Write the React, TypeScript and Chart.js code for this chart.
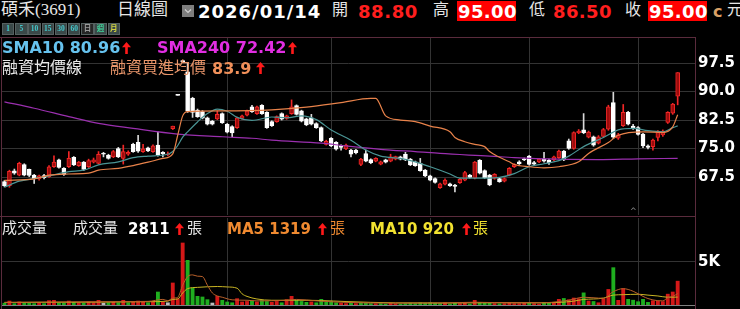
import React, { useEffect, useRef } from "react";
import { Chart, registerables } from "chart.js";

Chart.register(...registerables);

const SLOTS = 140;

const opens = [
  66.3,65.2,69.1,68.0,70.8,69.5,68.0,67.0,67.9,67.6,
  70.2,72.0,69.8,70.2,72.7,70.5,71.4,70.2,71.4,71.1,
  73.6,73.3,72.8,75.0,72.4,73.5,76.1,76.6,74.2,75.2,
  74.2,75.9,74.0,73.3,80.2,89.0,97.9,95.2,88.2,85.1,
  84.7,83.1,82.2,82.8,84.2,81.4,80.8,80.5,82.9,83.8,
  86.0,84.2,86.4,84.5,82.1,82.1,84.2,82.9,84.2,86.3,
  84.9,82.8,83.1,81.6,80.5,76.1,77.7,76.6,75.8,74.9,
  74.6,74.6,70.8,73.7,72.1,71.7,70.9,72.0,71.7,72.2,
  72.8,73.5,72.2,71.5,71.1,69.3,67.8,67.1,64.7,65.6,
  65.7,65.4,66.0,66.7,68.0,67.2,71.9,69.2,68.0,67.1,
  67.1,66.4,68.0,70.2,71.5,72.3,73.0,71.3,71.5,72.2,
  71.9,72.0,72.6,74.3,77.0,75.0,79.1,79.9,78.0,78.1,
  76.4,78.2,80.1,87.1,77.7,81.0,84.5,80.9,80.5,78.8,
  75.7,75.5,77.9,78.6,81.9,84.3,88.8,
];
const highs = [
  66.6,69.3,69.6,71.4,71.0,69.6,68.2,68.0,68.2,70.5,
  73.1,72.2,70.0,74.2,72.9,71.6,71.6,72.2,72.5,74.2,
  74.0,73.5,74.5,75.3,75.9,74.4,76.4,78.5,76.1,75.4,
  76.0,79.4,74.2,74.1,80.9,89.0,97.9,97.7,88.5,85.4,
  85.0,83.3,82.4,84.9,84.4,81.6,81.0,83.3,83.8,85.1,
  86.4,86.2,86.6,84.7,82.3,83.6,84.4,83.8,87.8,86.5,
  85.1,83.0,84.0,81.8,80.7,77.2,77.9,76.8,76.0,76.2,
  74.8,74.8,72.4,74.6,72.3,72.6,71.7,72.2,73.5,73.0,
  73.0,74.0,72.4,71.7,72.4,69.5,68.0,67.3,65.9,67.0,
  65.9,65.6,67.1,69.0,68.2,71.6,72.1,69.4,68.2,68.4,
  67.3,67.3,70.0,71.0,71.8,72.5,73.2,71.6,72.4,74.0,
  72.2,73.0,74.6,74.5,77.5,79.4,80.0,84.2,79.6,78.3,
  78.4,80.3,86.4,89.8,79.0,86.6,84.8,81.4,80.8,79.0,
  76.0,77.5,79.7,79.9,84.7,86.9,95.0,
];
const lows = [
  64.9,64.8,68.2,67.8,67.8,67.6,65.8,66.7,67.0,67.4,
  70.0,69.8,67.9,70.0,70.5,70.3,69.2,70.0,71.2,70.9,
  72.8,72.2,72.6,72.6,70.9,73.2,74.0,74.0,74.0,74.2,
  74.0,73.0,72.8,73.1,80.0,89.0,97.9,84.5,83.2,83.2,
  82.8,81.2,81.2,82.6,81.6,79.1,78.1,80.3,82.7,83.6,
  84.5,84.0,84.0,80.3,80.8,81.9,82.5,82.7,84.0,83.8,
  82.0,81.0,81.2,80.3,76.8,75.9,75.5,74.6,74.6,74.7,
  72.8,73.6,70.5,71.5,71.0,71.5,70.7,71.2,71.5,72.0,
  72.0,71.8,70.5,70.3,69.0,67.6,66.5,65.9,64.5,65.4,
  65.0,63.6,65.8,66.5,67.2,67.0,68.3,67.1,65.2,66.9,
  66.1,66.2,67.8,70.0,70.8,71.8,70.6,70.5,71.3,71.4,
  70.8,71.8,72.4,71.8,74.8,74.8,78.9,78.9,77.8,75.6,
  76.2,78.0,79.8,77.6,77.4,80.8,81.2,80.0,78.5,75.2,
  74.9,74.6,77.0,78.2,81.6,84.0,86.5,
];
const closes = [
  65.2,69.0,68.5,71.1,68.0,67.9,67.0,67.8,67.3,70.2,
  71.4,70.0,68.2,72.4,70.7,71.4,69.5,71.8,72.0,73.5,
  73.5,72.4,74.2,72.8,74.2,74.0,74.2,74.3,74.9,74.4,
  75.7,73.3,73.6,73.6,80.9,89.0,97.9,85.0,84.5,83.4,
  83.0,81.4,81.4,84.0,81.8,79.3,79.1,83.1,83.6,84.9,
  84.7,86.0,84.2,80.5,81.0,83.4,82.7,83.6,86.0,84.0,
  82.2,81.2,81.4,80.5,77.0,76.9,75.7,74.8,75.3,75.9,
  73.5,73.9,72.2,71.7,71.3,72.4,71.5,71.4,72.8,72.9,
  72.2,72.0,70.7,70.5,69.2,67.8,66.7,66.1,65.7,66.7,
  65.2,65.0,66.9,68.7,67.4,71.4,68.5,67.3,65.4,68.2,
  66.3,67.1,69.8,70.8,71.0,72.0,70.8,70.9,72.2,71.7,
  71.2,72.8,74.3,72.0,75.0,79.2,79.6,79.2,79.3,75.9,
  78.1,80.0,86.0,78.0,78.6,84.5,81.4,80.3,78.7,75.7,
  75.3,77.2,79.4,79.6,84.5,86.7,95.0,
];
const volumes = [
  250,500,200,400,300,250,200,300,200,550,
  580,300,250,500,350,300,250,400,300,580,
  250,300,350,300,580,300,350,500,400,300,
  450,1550,400,300,2600,775,7250,5230,2015,1050,
  970,660,270,1050,580,390,300,775,390,450,
  500,400,580,450,350,450,300,660,1050,580,
  450,350,400,300,700,350,450,300,250,200,
  250,200,300,250,200,180,200,150,250,180,
  150,200,250,200,300,250,300,250,200,300,
  150,250,200,300,150,580,350,250,300,200,
  180,200,300,200,200,250,300,200,150,350,
  250,350,700,800,650,850,775,1450,500,450,
  300,750,1850,4380,580,1940,700,600,420,700,
  350,535,500,434,1300,1550,2811,
];

// [day number, value]
const sma10Points: [number, number][] = [
  [1,64.8],[4,66.4],[7,67.1],[10,67.8],[14,68.9],[17,69.3],[20,70.7],[24,71.5],[27,72.6],[30,73.0],
  [34,73.5],[35,74.2],[36,75.8],[37,78.0],[38,79.4],[40,82.0],[42,84.2],[44,85.4],[46,84.8],[48,83.2],
  [51,82.4],[55,83.3],[58,83.1],[61,83.6],[64,82.6],[67,79.9],[71,77.2],[74,74.6],[77,73.0],[81,72.4],
  [84,71.5],[87,70.2],[91,68.3],[93,67.2],[98,67.2],[101,67.4],[104,68.4],[107,70.2],[110,71.0],[113,71.8],
  [115,73.0],[118,75.5],[122,77.9],[125,79.9],[128,80.3],[131,79.7],[134,79.4],[136,80.5],[137,80.96],
];
const sma240Points: [number, number][] = [
  [1,87.3],[7,85.6],[14,83.4],[20,81.6],[27,80.3],[36,78.8],[45,78.1],[51,77.7],[55,77.2],[65,76.4],
  [70,75.7],[79,74.6],[84,74.2],[89,73.7],[99,73.0],[104,72.6],[113,72.2],[121,72.1],[129,72.3],[137,72.42],
];
const marginCostPoints: [number, number][] = [
  [1,66.6],[7,67.0],[10,68.0],[14,68.3],[18,68.5],[20,69.3],[24,69.8],[27,70.5],[30,71.4],[33,72.4],
  [35,73.6],[36,78.5],[37,83.6],[38,84.7],[45,84.9],[55,85.2],[62,85.9],[69,87.1],[75,88.2],[76,88.2],
  [78,83.6],[81,82.5],[84,82.1],[87,80.9],[91,79.4],[92,77.9],[94,76.8],[96,76.1],[98,75.5],[99,74.2],
  [101,72.7],[103,71.5],[104,70.8],[107,70.2],[110,69.9],[113,70.2],[117,71.5],[119,73.7],[123,76.6],[125,78.5],
  [130,79.4],[134,79.2],[136,80.7],[137,83.9],
];
const volMa5Points: [number, number][] = [
  [1,300],[10,350],[20,380],[30,420],[33,650],[34,500],[35,800],[36,900],[37,2300],[38,3300],
  [39,3500],[40,3350],[41,3300],[42,2300],[43,1400],[44,1050],[45,900],[47,600],[50,550],[52,480],
  [58,550],[60,650],[64,480],[70,300],[80,220],[90,240],[96,320],[100,280],[110,260],[113,400],
  [115,550],[118,900],[121,800],[122,780],[124,1550],[126,1900],[128,1600],[130,1000],[131,750],[133,500],
  [134,480],[135,850],[136,1000],[137,1319],
];
const volMa10Points: [number, number][] = [
  [1,300],[20,330],[30,380],[34,450],[35,650],[36,700],[37,1400],[38,1900],[40,2050],[44,2150],
  [46,2100],[48,1950],[49,1300],[50,1000],[52,700],[55,550],[60,550],[65,520],[70,400],[80,250],
  [90,230],[100,260],[110,250],[113,300],[116,450],[118,650],[120,700],[122,800],[124,1150],[126,1200],
  [129,1250],[131,1150],[133,1050],[135,900],[137,920],
];

const priceTicks = [67.5, 75, 82.5, 90, 97.5];
const volumeTicks = [5000];
const monthStartDays = [46, 67, 87, 107, 129];

const categories = Array.from({ length: SLOTS }, (_, i) => `D${i + 1}`);

const toLine = (pts: [number, number][]) => pts.map(([d, v]) => ({ x: categories[d - 1], y: v }));

const BOLD = '"DejaVu Sans", sans-serif';
const SERIF_CJK = '"Liberation Serif", "Noto Sans CJK TC", serif';
const GRID = "#333333";
const FRAME = "#5a2b3c";

function xAxis(showBorder: boolean) {
  return {
    type: "category" as const,
    offset: true,
    grid: { color: GRID, offset: false, drawTicks: false, lineWidth: 1 },
    border: { display: showBorder, color: "#808080", width: 1 },
    ticks: { display: false, autoSkip: false },
    afterBuildTicks: (s: any) => {
      s.ticks = monthStartDays.map((d) => ({ value: d - 1 }));
    },
    afterFit: (s: any) => {
      s.height = 0;
      s.paddingTop = 0;
      s.paddingBottom = 0;
      s.paddingLeft = 0;
      s.paddingRight = 0;
    },
  };
}

function yFit(s: any) {
  s.width = 45;
  s.paddingTop = 0;
  s.paddingBottom = 0;
  s.paddingLeft = 0;
  s.paddingRight = 0;
}

function UpArrow({ x, y }: { x: number; y: number }) {
  return (
    <svg style={{ position: "absolute", left: x, top: y }} width={9} height={12} viewBox="0 0 9 12">
      <polygon points="4.5,0 9,5.2 5.8,5.2 5.8,12 3.2,12 3.2,5.2 0,5.2" fill="#ff1a1a" />
    </svg>
  );
}

function T({ x, y, size, color, family, weight, ls, children }: any) {
  return (
    <div
      style={{
        position: "absolute",
        left: x,
        top: y,
        fontSize: size,
        lineHeight: `${size}px`,
        color,
        fontFamily: family,
        fontWeight: weight || "normal",
        letterSpacing: ls || 0,
        whiteSpace: "nowrap",
      }}
    >
      {children}
    </div>
  );
}

const buttonLabels = ["1", "5", "10", "15", "30", "60", "日", "週", "月"];

export default function App() {
  const priceRef = useRef<HTMLCanvasElement>(null);
  const volRef = useRef<HTMLCanvasElement>(null);

  useEffect(() => {
    document.body.style.margin = "0";
    document.body.style.background = "#000";

    const up = opens.map((o, i) => closes[i] > o);
    const bodyData = opens.map((o, i) => [Math.min(o, closes[i]), Math.max(o, closes[i])]);
    const wickData = opens.map((_, i) => [lows[i], highs[i]]);
    const bodyFill = up.map((u) => (u ? "#9c0c0c" : "#ffffff"));
    const bodyEdge = up.map((u) => (u ? "#f02626" : "#ffffff"));
    const wickColor = up.map((u) => (u ? "#f02626" : "#d8d8d8"));
    const volColor = closes.map((c, i) => {
      const prev = i === 0 ? opens[0] : closes[i - 1];
      if (c > prev) return "#d41818";
      if (c < prev) return "#1fae1f";
      return "#bdbdbd";
    });

    const pc = new Chart(priceRef.current as HTMLCanvasElement, {
      type: "bar",
      data: {
        labels: categories,
        datasets: [
          {
            type: "bar",
            data: wickData as any,
            backgroundColor: wickColor,
            borderWidth: 0,
            barThickness: 1,
            grouped: false,
            minBarLength: 1,
            order: 3,
          } as any,
          {
            type: "bar",
            data: bodyData as any,
            backgroundColor: bodyFill,
            borderColor: bodyEdge,
            borderWidth: 1,
            borderSkipped: false,
            barThickness: 4,
            grouped: false,
            minBarLength: 1,
            order: 2,
          } as any,
          {
            type: "line",
            data: toLine(sma240Points) as any,
            borderColor: "#9a2fae",
            borderWidth: 1.2,
            pointRadius: 0,
            cubicInterpolationMode: "monotone",
            order: 1,
          } as any,
          {
            type: "line",
            data: toLine(marginCostPoints) as any,
            borderColor: "#e8824a",
            borderWidth: 1.2,
            pointRadius: 0,
            cubicInterpolationMode: "monotone",
            order: 0,
          } as any,
          {
            type: "line",
            data: toLine(sma10Points) as any,
            borderColor: "#4a9595",
            borderWidth: 1.2,
            pointRadius: 0,
            cubicInterpolationMode: "monotone",
            order: 0,
          } as any,
        ],
      },
      options: {
        animation: false,
        responsive: false,
        devicePixelRatio: 1,
        events: [],
        layout: { autoPadding: false, padding: { left: 2, right: 0, top: 0, bottom: 1 } },
        plugins: { legend: { display: false }, tooltip: { enabled: false } },
        scales: {
          x: xAxis(false) as any,
          y: {
            position: "right",
            min: 57.5,
            max: 104.1,
            afterBuildTicks: (s: any) => {
              s.ticks = priceTicks.map((v) => ({ value: v }));
            },
            afterFit: yFit,
            grid: { color: GRID, drawTicks: false },
            border: { display: false },
            ticks: {
              color: "#ffffff",
              padding: 3,
              font: { family: "DejaVu Sans", size: 15, weight: "bold" },
              callback: (v: any) => Number(v).toFixed(1),
            },
          },
        },
      },
    });

    const vc = new Chart(volRef.current as HTMLCanvasElement, {
      type: "bar",
      data: {
        labels: categories,
        datasets: [
          {
            type: "bar",
            data: volumes,
            backgroundColor: volColor,
            borderWidth: 0,
            barPercentage: 0.78,
            categoryPercentage: 1,
            order: 2,
          } as any,
          {
            type: "line",
            data: toLine(volMa10Points) as any,
            borderColor: "#c9b524",
            borderWidth: 1,
            pointRadius: 0,
            cubicInterpolationMode: "monotone",
            order: 1,
          } as any,
          {
            type: "line",
            data: toLine(volMa5Points) as any,
            borderColor: "#b8602a",
            borderWidth: 1,
            pointRadius: 0,
            cubicInterpolationMode: "monotone",
            order: 0,
          } as any,
        ],
      },
      options: {
        animation: false,
        responsive: false,
        devicePixelRatio: 1,
        events: [],
        layout: { autoPadding: false, padding: { left: 2, right: 0, top: 2, bottom: 4 } },
        plugins: { legend: { display: false }, tooltip: { enabled: false } },
        scales: {
          x: xAxis(true) as any,
          y: {
            position: "right",
            min: 0,
            max: 10116,
            afterBuildTicks: (s: any) => {
              s.ticks = volumeTicks.map((v) => ({ value: v }));
            },
            afterFit: yFit,
            grid: { color: GRID, drawTicks: false },
            border: { display: false },
            ticks: {
              color: "#ffffff",
              padding: 3,
              font: { family: "DejaVu Sans", size: 15, weight: "bold" },
              callback: (v: any) => `${Number(v) / 1000}K`,
            },
          },
        },
      },
    });

    return () => {
      pc.destroy();
      vc.destroy();
    };
  }, []);

  return (
    <div
      style={{
        position: "relative",
        width: 740,
        height: 309,
        background: "#000",
        overflow: "hidden",
      }}
    >
      <canvas ref={priceRef} width={740} height={178} style={{ position: "absolute", left: 0, top: 38 }} />
      <canvas ref={volRef} width={740} height={93} style={{ position: "absolute", left: 0, top: 216 }} />

      {/* panel frames */}
      <div style={{ position: "absolute", left: 0, top: 37, width: 696, height: 1, background: FRAME }} />
      <div style={{ position: "absolute", left: 0, top: 216, width: 696, height: 1, background: FRAME }} />
      <div style={{ position: "absolute", left: 1, top: 37, width: 1, height: 272, background: FRAME }} />
      <div style={{ position: "absolute", left: 695, top: 37, width: 1, height: 272, background: FRAME }} />
      <div style={{ position: "absolute", left: 630, top: 208, fontSize: 8, lineHeight: "8px", color: "#8a8a8a", fontFamily: BOLD }}>^</div>

      {/* header row 1 */}
      <T x={1} y={1} size={17} color="#e6e6e6" family={SERIF_CJK}>碩禾(3691)</T>
      <T x={117} y={1} size={17} color="#e6e6e6" family={SERIF_CJK}>日線圖</T>
      <div style={{ position: "absolute", left: 182, top: 5, width: 12, height: 12, background: "#7d7d7d" }}>
        <svg width={12} height={12} viewBox="0 0 12 12" style={{ position: "absolute", left: 0, top: 0 }}>
          <polyline points="3,4.5 6,7.5 9,4.5" fill="none" stroke="#d0d0d0" strokeWidth={1.2} />
        </svg>
      </div>
      <T x={198} y={3} size={18} color="#ffffff" family={BOLD} weight="bold" ls="1px">2026/01/14</T>
      <T x={332} y={2} size={16} color="#e6e6e6" family={SERIF_CJK}>開</T>
      <T x={358} y={3} size={18} color="#ff1e1e" family={BOLD} weight="bold" ls="0.6px">88.80</T>
      <T x={433} y={2} size={16} color="#e6e6e6" family={SERIF_CJK}>高</T>
      <div style={{ position: "absolute", left: 457, top: 1, width: 59, height: 20, background: "#ff0000" }} />
      <T x={458} y={3} size={18} color="#ffffff" family={BOLD} weight="bold" ls="0.4px">95.00</T>
      <T x={529} y={2} size={16} color="#e6e6e6" family={SERIF_CJK}>低</T>
      <T x={553} y={3} size={18} color="#ff1e1e" family={BOLD} weight="bold" ls="0.4px">86.50</T>
      <T x={625} y={2} size={16} color="#e6e6e6" family={SERIF_CJK}>收</T>
      <div style={{ position: "absolute", left: 648, top: 1, width: 59, height: 20, background: "#ff0000" }} />
      <T x={649} y={3} size={18} color="#ffffff" family={BOLD} weight="bold" ls="0.4px">95.00</T>
      <T x={713} y={4} size={16} color="#d9a066" family={BOLD} weight="bold">c</T>
      <T x={727} y={2} size={16} color="#e6e6e6" family={SERIF_CJK}>元</T>

      {/* period buttons */}
      {buttonLabels.map((b, k) => {
        const sel = b === "日";
        const col = b === "週" ? "#3fd49a" : b === "月" ? "#cfd040" : sel ? "#9a9a9a" : "#45c8cc";
        return (
          <div
            key={b}
            style={{
              position: "absolute",
              left: 2 + k * 13.2,
              top: 23,
              width: 12.4,
              height: 11.5,
              background: sel ? "#262626" : "#3a4848",
              border: "1px solid #556060",
              boxSizing: "border-box",
              color: col,
              fontSize: 7.5,
              fontWeight: "bold",
              fontFamily: SERIF_CJK,
              lineHeight: "10px",
              textAlign: "center",
            }}
          >
            {b}
          </div>
        );
      })}

      {/* price legends */}
      <T x={2} y={40} size={16} color="#66c2ee" family={BOLD} weight="bold">SMA10 80.96</T>
      <UpArrow x={122} y={42} />
      <T x={157} y={40} size={16} color="#e22ee2" family={BOLD} weight="bold">SMA240 72.42</T>
      <UpArrow x={288} y={42} />
      <T x={2} y={60} size={16} color="#e8e8e8" family={SERIF_CJK}>融資均價線</T>
      <T x={110} y={60} size={16} color="#e8956a" family={SERIF_CJK}>融資買進均價</T>
      <T x={212} y={61} size={16} color="#f0905a" family={BOLD} weight="bold">83.9</T>
      <UpArrow x={256} y={62} />

      {/* volume legends */}
      <T x={2} y={221} size={15} color="#e6e6e6" family={SERIF_CJK}>成交量</T>
      <T x={73} y={221} size={15} color="#e6e6e6" family={SERIF_CJK}>成交量</T>
      <T x={128} y={221.5} size={15} color="#ffffff" family={BOLD} weight="bold">2811</T>
      <UpArrow x={175} y={223} />
      <T x={187} y={221} size={15} color="#e6e6e6" family={SERIF_CJK}>張</T>
      <T x={227} y={221.5} size={15} color="#f08a30" family={BOLD} weight="bold">MA5 1319</T>
      <UpArrow x={318} y={223} />
      <T x={330} y={221} size={15} color="#f08a30" family={SERIF_CJK}>張</T>
      <T x={370} y={221.5} size={15} color="#f2e230" family={BOLD} weight="bold">MA10 920</T>
      <UpArrow x={462} y={223} />
      <T x={473} y={221} size={15} color="#f2e230" family={SERIF_CJK}>張</T>
    </div>
  );
}
